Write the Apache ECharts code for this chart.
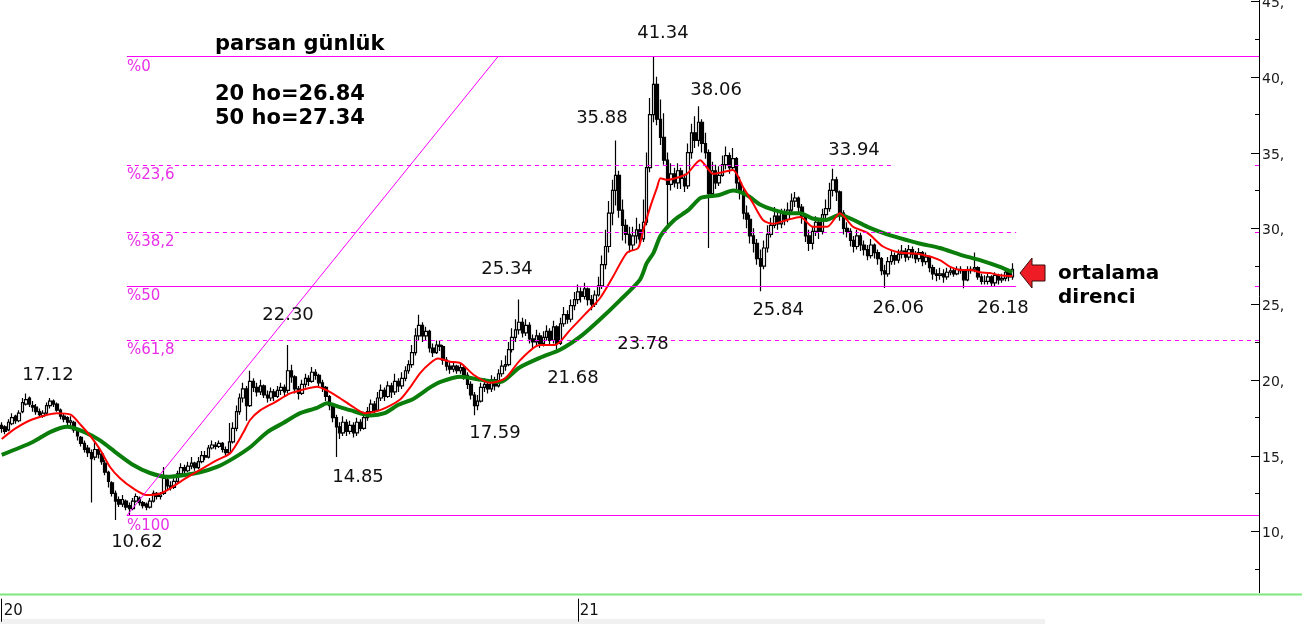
<!DOCTYPE html>
<html><head><meta charset="utf-8">
<script src="https://cdn.jsdelivr.net/npm/echarts@6/dist/echarts.min.js"></script>
<style>html,body{margin:0;padding:0;background:#fff}#c{width:1302px;height:624px}</style>
</head><body><div id="c"></div>
<script>
// ---- DATA ----
const opens=[17.0,16.9,16.7,17.1,17.6,17.3,17.9,18.4,18.8,18.3,
18.2,17.9,17.6,17.8,18.3,18.6,18.4,18.0,17.6,17.5,
17.2,17.2,16.7,16.2,15.8,15.5,15.2,14.9,15.4,15.1,
14.5,13.9,13.2,12.5,12.1,11.8,12.0,11.7,11.5,12.0,
12.2,11.9,11.8,11.6,12.0,12.5,12.3,12.5,13.4,13.0,
12.9,13.3,13.8,14.2,14.0,14.3,14.5,14.2,14.6,15.0,
14.9,15.5,15.7,15.6,15.8,15.4,15.2,15.9,16.8,17.9,
18.8,19.4,18.3,19.9,19.5,19.2,19.6,19.0,18.8,19.2,
18.9,19.3,19.5,19.3,20.6,20.2,19.4,19.1,19.7,20.1,
19.9,20.5,20.3,19.8,19.5,18.9,18.3,17.5,16.9,16.5,
17.2,16.6,17.0,16.5,17.2,16.8,17.5,17.9,18.4,18.0,
18.8,19.3,18.9,19.6,19.2,19.9,19.6,20.1,20.6,21.0,
21.8,22.9,23.6,22.9,23.2,22.1,21.8,22.3,22.2,21.3,
20.9,20.7,20.9,20.6,20.8,20.3,19.7,19.0,18.3,18.6,
19.5,19.7,19.4,20.0,19.6,20.4,20.9,21.0,22.0,22.8,
23.3,23.8,23.1,23.6,22.7,22.5,22.9,22.4,22.8,23.2,
22.6,23.5,22.4,23.7,24.3,24.0,24.9,25.3,25.8,25.5,
26.0,25.3,25.0,25.6,26.2,27.6,28.8,31.0,32.5,33.5,
31.2,30.2,29.6,28.9,29.5,29.9,29.3,30.4,34.0,37.5,
39.5,37.2,36.0,34.5,32.9,33.6,33.0,33.8,33.3,32.8,
35.0,36.3,35.8,37.0,35.6,35.0,32.3,33.8,33.0,33.5,
34.2,34.8,34.0,34.6,33.0,32.4,31.0,30.6,29.5,29.0,
28.0,27.5,28.7,29.6,30.2,30.8,30.3,31.0,30.6,31.2,
31.8,32.0,31.4,30.8,29.5,29.0,29.8,30.4,29.8,30.9,
31.3,32.5,33.2,32.4,31.0,30.0,29.8,29.2,28.8,29.5,
28.9,28.6,28.2,28.9,28.4,28.0,27.2,27.0,27.8,28.2,
27.9,28.3,28.5,28.1,28.6,28.3,28.0,28.4,27.8,28.1,
27.4,27.0,26.9,27.0,26.8,27.1,27.2,27.0,27.3,27.2,
26.6,27.2,27.3,27.4,26.8,26.5,26.5,26.8,26.4,26.9,
26.6,26.7,27.1,26.8];
const highs=[17.2,17.0,17.4,17.8,17.7,18.0,18.8,19.1,18.9,18.6,
18.4,18.1,18.0,18.5,18.8,18.7,18.5,18.1,17.8,17.6,
17.6,17.3,16.8,16.3,16.0,15.7,15.4,16.0,15.6,15.2,
14.7,14.0,13.3,12.7,12.3,12.4,12.1,11.9,12.2,12.5,
12.3,12.0,11.9,12.2,12.7,12.6,12.6,14.25,13.7,13.3,
13.5,14.0,14.5,14.4,14.6,14.9,14.6,14.9,15.3,15.3,
15.7,16.0,15.9,16.0,15.9,15.6,17.15,17.2,18.3,19.1,
19.8,19.6,20.6,20.1,19.8,20.0,19.7,19.3,19.5,19.4,
19.6,19.8,19.7,22.3,21.0,20.3,19.6,20.0,20.4,20.3,
20.85,20.7,20.4,20.0,19.6,19.0,18.4,17.7,17.2,17.6,
17.4,17.3,17.2,17.5,17.4,17.9,18.2,18.7,18.6,19.2,
19.7,19.5,19.9,19.8,20.4,20.1,20.5,20.9,21.3,22.3,
23.4,24.3,23.8,23.5,23.3,22.4,22.6,22.6,22.3,21.5,
21.2,21.2,21.0,21.1,21.0,20.5,19.9,19.2,19.0,19.8,
20.1,19.9,20.3,20.2,20.7,21.3,21.6,22.5,23.4,24.0,
25.3,24.1,24.0,23.8,23.0,23.3,23.1,23.2,23.6,23.4,
23.9,23.6,24.1,24.8,24.6,25.3,25.8,26.3,26.1,26.4,
26.1,25.6,25.9,26.8,28.2,29.9,31.8,33.2,35.8,33.8,
31.9,30.6,30.1,30.1,30.7,30.3,31.9,35.0,38.6,41.34,
40.0,38.5,37.6,35.0,34.3,34.0,34.3,34.0,33.6,35.6,
36.9,37.4,38.06,37.2,36.3,35.2,34.4,34.2,34.1,34.8,
35.4,35.0,35.3,34.7,33.4,32.6,31.5,30.9,30.0,29.3,
28.6,29.2,30.2,30.7,31.4,31.1,31.3,31.3,31.7,32.3,
32.4,32.1,31.6,30.9,29.9,30.1,30.8,30.6,31.3,31.9,
33.0,33.94,33.4,32.5,31.2,30.4,30.0,29.5,29.9,29.7,
29.2,28.9,29.3,29.0,28.6,28.1,27.6,28.1,28.5,28.4,
28.6,28.9,28.7,28.9,28.8,28.5,28.7,28.5,28.4,28.2,
27.6,27.3,27.4,27.3,27.4,27.5,27.4,27.5,27.5,27.3,
27.5,27.5,28.4,27.5,27.0,26.9,27.0,26.9,27.1,27.0,
27.0,27.4,27.3,27.7];
const lows=[16.5,16.4,16.6,17.0,17.1,17.2,17.8,18.3,18.2,17.9,
17.7,17.5,17.5,17.7,18.1,18.2,17.9,17.4,17.2,17.0,
16.9,16.5,16.0,15.6,15.2,14.9,11.9,14.7,14.8,14.4,
13.7,12.9,12.3,10.75,11.6,11.6,11.4,11.05,11.4,11.9,
11.7,11.5,11.4,11.5,11.9,12.1,12.1,12.4,12.8,12.7,
12.8,13.2,13.7,13.8,13.9,14.1,14.0,14.1,14.5,14.7,
14.8,15.4,15.4,15.5,15.2,14.9,15.1,15.8,16.6,17.7,
18.5,17.3,18.2,19.2,18.9,19.0,18.8,18.5,18.6,18.6,
18.8,19.0,18.9,19.1,19.8,19.1,18.7,19.0,19.5,19.6,
19.8,20.0,19.5,19.2,18.6,18.0,17.2,14.9,16.1,16.3,
16.3,16.4,16.2,16.3,16.6,16.7,17.3,17.7,17.8,17.9,
18.6,18.6,18.8,18.8,19.0,19.2,19.4,19.9,20.4,20.8,
21.6,22.6,22.5,22.6,21.8,21.5,21.7,21.9,21.0,20.6,
20.4,20.5,20.4,20.4,20.0,19.4,18.7,17.67,18.0,18.5,
19.2,19.1,19.2,19.3,19.5,20.2,20.6,20.9,21.8,22.5,
23.0,22.8,22.9,22.4,22.1,22.2,22.1,22.2,22.6,22.3,
22.4,22.0,22.3,23.5,23.7,23.8,24.6,25.0,25.1,25.3,
24.9,24.6,24.8,25.5,26.0,27.3,28.4,30.2,31.5,30.7,
29.2,29.0,28.4,28.5,29.0,28.8,29.1,30.2,33.7,37.0,
36.8,35.5,34.2,30.1,32.5,32.7,32.6,32.6,32.4,32.6,
34.6,35.3,35.4,35.0,34.6,28.7,32.0,32.6,32.8,33.4,
33.9,33.6,33.8,32.6,31.9,30.6,30.0,29.0,28.4,27.6,
25.84,27.3,28.4,29.4,30.0,29.9,30.0,30.2,30.4,31.0,
31.4,31.0,30.3,29.1,28.5,28.6,29.5,29.3,29.6,30.6,
31.1,32.1,31.8,30.5,29.6,29.4,28.8,28.4,28.6,28.5,
28.2,27.9,28.0,28.0,27.6,26.9,26.06,26.8,27.6,27.6,
27.7,28.0,27.8,27.9,28.0,27.7,27.8,27.5,27.6,27.1,
26.6,26.5,26.6,26.4,26.6,26.9,26.8,26.9,27.0,26.05,
26.5,27.0,27.1,26.6,26.3,26.3,26.3,26.2,26.2,26.3,
26.4,26.5,26.5,26.6];
const closes=[16.8,16.6,17.2,17.5,17.3,17.8,18.5,18.7,18.4,18.2,
17.9,17.7,17.8,18.3,18.6,18.4,18.0,17.6,17.4,17.2,
17.3,16.7,16.3,15.8,15.4,15.2,14.8,15.4,15.1,14.6,
13.9,13.3,12.5,12.0,11.8,12.1,11.6,11.5,12.0,12.3,
11.9,11.7,11.6,12.0,12.5,12.3,12.4,13.5,13.0,12.9,
13.3,13.8,14.2,14.0,14.3,14.5,14.2,14.6,15.0,14.9,
15.5,15.7,15.6,15.8,15.4,15.2,15.9,16.8,17.9,18.8,
19.4,18.3,19.9,19.5,19.2,19.6,19.0,18.8,19.2,18.9,
19.3,19.5,19.2,20.6,20.2,19.4,19.1,19.7,20.1,19.9,
20.5,20.3,19.8,19.5,18.9,18.3,17.5,16.9,16.5,17.2,
16.6,17.0,16.5,17.2,16.8,17.5,17.9,18.4,18.0,18.8,
19.3,18.9,19.6,19.2,19.9,19.6,20.1,20.6,21.0,21.8,
22.9,23.6,22.9,23.2,22.1,21.8,22.3,22.2,21.3,20.9,
20.7,20.9,20.6,20.8,20.3,19.7,19.0,18.3,18.6,19.5,
19.7,19.4,20.0,19.6,20.4,20.9,21.0,22.0,22.8,23.3,
23.8,23.1,23.6,22.7,22.5,22.9,22.4,22.8,23.2,22.6,
23.5,22.4,23.7,24.3,24.0,24.9,25.3,25.8,25.5,26.0,
25.3,25.0,25.6,26.2,27.6,28.8,31.0,32.5,33.5,31.2,
30.2,29.6,28.9,29.5,29.9,29.3,30.4,34.0,37.5,39.5,
37.2,36.0,34.5,32.9,33.6,33.0,33.8,33.3,32.8,35.0,
36.3,35.8,37.0,35.6,35.0,32.3,33.8,33.0,33.5,34.2,
34.8,34.0,34.6,33.0,32.4,31.0,30.6,29.5,29.0,28.0,
27.5,28.7,29.6,30.2,30.8,30.3,31.0,30.6,31.2,31.8,
32.0,31.4,30.8,29.5,29.0,29.8,30.4,29.8,30.9,31.3,
32.5,33.2,32.4,31.0,30.0,29.8,29.2,28.8,29.5,28.9,
28.6,28.2,28.9,28.4,28.0,27.2,27.0,27.8,28.2,27.9,
28.3,28.5,28.1,28.6,28.3,28.0,28.4,27.8,28.1,27.4,
27.0,26.9,27.0,26.8,27.1,27.2,27.0,27.3,27.2,26.6,
27.2,27.3,27.4,26.8,26.5,26.5,26.8,26.4,26.9,26.6,
26.7,27.1,26.8,27.3];
// moving averages sampled along the curves: [bar index, value]
const ma20=[[0,16.1],[4,16.8],[9,17.4],[16,17.8],[20,17.7],[23,17.0],[26,16.2],[28.5,15.4],[31.4,14.25],[34.3,13.5],[38,12.85],[42,12.4],[46,12.5],[49,12.85],[52.6,13.4],[57.5,14.05],[62.4,14.7],[66.2,15.15],[70,16.5],[72,17.35],[75,18.0],[79,18.5],[83.6,19.1],[86.5,19.3],[91.4,19.55],[94.3,19.3],[98,18.8],[101,18.35],[105.3,17.8],[109.7,18.0],[115.5,18.7],[118.4,19.5],[121.3,20.45],[124.2,21.1],[126.5,21.4],[130,21.2],[133,21.1],[137,20.3],[141.6,19.8],[146,20.1],[150.3,21.3],[156,22.3],[160.4,22.3],[164.8,23.3],[169,24.3],[173.5,25.4],[177.2,26.8],[181.3,28.4],[184.5,28.7],[186,29.9],[188,31.4],[190,32.7],[191,33.3],[193,33.2],[196.7,33.4],[198.7,33.6],[202.5,34.5],[204.5,34.0],[206.2,33.6],[209,33.7],[212,33.85],[215,32.7],[217.8,31.65],[220.7,30.55],[223.6,30.3],[227.7,30.55],[231.5,30.75],[235.2,30.1],[239.3,30.1],[243,31.0],[246.8,30.1],[251,29.7],[255.5,28.8],[260.4,28.4],[266,28.3],[272,27.9],[275,27.45],[278,27.25],[281,27.25],[283.6,27.1],[286.5,27.05],[289.4,26.9],[293,26.85]];
const ma50=[[0,15.05],[9,15.9],[14,16.55],[19,16.9],[24,16.55],[28.5,16.0],[33.4,15.15],[38,14.4],[43,13.85],[48,13.6],[52.6,13.7],[57.5,13.9],[62.4,14.25],[67,14.8],[72,15.55],[77,16.55],[81.6,17.15],[86.5,17.8],[91.4,18.15],[94.3,18.45],[98,18.2],[101,18.0],[107,17.65],[111,17.8],[115,18.35],[119,18.7],[124.2,19.5],[127,19.85],[133,20.2],[139,20.0],[144.5,19.85],[150,20.8],[156,21.45],[162,22.0],[168,22.9],[173.5,24.0],[179,25.2],[185,26.6],[187,27.7],[189,28.4],[191,29.5],[195,30.55],[199,31.2],[202.5,32.0],[204.5,32.1],[208,32.2],[212,32.5],[216,32.2],[220,31.55],[224,31.2],[228,31.0],[231.5,31.0],[235,30.65],[239,30.55],[243,30.9],[247,30.55],[251,30.1],[255.5,29.7],[260.4,29.35],[266,29.0],[272,28.7],[278,28.25],[283.6,27.9],[289.4,27.45],[293,27.1]];
const fibHigh=41.34, fibLow=11.05;
const fibRatios=[0,0.236,0.382,0.5,0.618,1];
const fibLabels=['%0','%23,6','%38,2','%50','%61,8','%100'];
const peakLabels=['17.12','10.62','22.30','14.85','17.59','25.34','21.68','23.78','35.88','41.34','38.06','33.94','25.84','26.06','26.18'];
const yearLabels=['20','21'];
const yearIdx=[0,167];
const yMajor=[10,15,20,25,30,35,40,45];
const yMinor=[7.5,12.5,17.5,22.5,27.5,32.5,37.5,42.5];
const titleLines=['parsan günlük','20 ho=26.84','50 ho=27.34'];
const noteLines=['ortalama','direnci'];

// ---- LAYOUT ----
const SLOTS=365;
const GRID_W=1259;
const peakAt=[[13.4,20.32],[39.2,9.30],[83.0,24.28],[103.3,13.58],[143.0,16.49],[146.5,27.31],[165.6,20.12],[185.9,22.37],[174.0,37.29],[191.7,42.84],[207.1,39.08],[247.1,35.17],[225.1,24.61],[259.9,24.75],[290.3,24.75]];
const fibStart=36.3;
const fibEnd=[364.5,258.4,294.1,294.1,364.5,364.5];
const MAG='#ff00ff';
const XMAX=SLOTS-0.5;

const candles=closes.map((c,i)=>[opens[i],c,lows[i],highs[i]]);
const cats=Array.from({length:SLOTS},()=> '');
yearIdx.forEach((k,j)=>{cats[k]=yearLabels[j];});
const fibLevels=fibRatios.map(r=>fibHigh-r*(fibHigh-fibLow));

const fibLines=fibLevels.map((v,j)=>[
  {coord:[fibStart,v],lineStyle:{color:MAG,width:1,type:(j===1||j===2||j===4)?[4,4]:'solid'}},
  {coord:[fibEnd[j],v]}]);
const diag=[[{coord:[fibStart,fibLow],lineStyle:{color:MAG,width:1,type:'solid'}},{coord:[143.9,fibHigh]}]];
// tick marks on the price axis: [value, length px, colour]
const axisMarks=yMajor.map(v=>[XMAX,v,8,0]).concat([1,2,3].map(j=>[XMAX,fibLevels[j],4,1]));

const pts=peakLabels.map((t,j)=>({coord:peakAt[j],symbolSize:0,
  label:{show:true,position:'inside',formatter:t,color:'#111',fontSize:18,fontFamily:'DejaVu Sans'}}));
const fibPts=fibLabels.map((t,j)=>({coord:[fibStart,fibLevels[j]-0.69],symbolSize:0,
  label:{show:true,position:[0,0],align:'left',verticalAlign:'middle',formatter:t,color:'#e830e8',fontSize:15,fontFamily:'DejaVu Sans'}}));

const chart=echarts.init(document.getElementById('c'),null,{renderer:'canvas'});
const txt=(s,x,y,size)=>({type:'text',x:x,y:y,z:100,style:{text:s,fill:'#000',font:'bold '+size+'px "DejaVu Sans"',align:'left',verticalAlign:'middle'}});
chart.setOption({
  animation:false,
  backgroundColor:'#fff',
  grid:{left:0,right:1302-GRID_W,top:0,bottom:31.3,containLabel:false,outerBoundsMode:'none'},
  xAxis:[{
    type:'category',data:cats,boundaryGap:true,offset:6,
    axisLine:{show:false},splitLine:{show:false},
    axisTick:{show:true,alignWithLabel:true,interval:(i,v)=>v!=='',length:23,lineStyle:{color:'#000',width:1}},
    axisLabel:{show:true,interval:(i,v)=>v!=='',align:'left',verticalAlign:'top',margin:5,padding:[0,0,0,2],color:'#111',fontSize:15,fontFamily:'DejaVu Sans'}
  },{
    type:'value',min:-0.5,max:XMAX,show:false
  }],
  yAxis:[{
    type:'value',position:'right',min:5.95,max:45.07,
    splitLine:{show:false},
    axisLine:{show:true,onZero:false,lineStyle:{color:'#000',width:1}},
    axisTick:{show:true,inside:true,length:4,customValues:yMinor,lineStyle:{color:'#000',width:1}},
    axisLabel:{show:true,customValues:yMajor,formatter:v=>v+',',color:'#1a1a1a',fontFamily:'DejaVu Sans',fontSize:14,margin:3,verticalAlign:'top',lineHeight:5}
  }],
  series:[{
    type:'candlestick',xAxisIndex:0,yAxisIndex:0,data:candles,barWidth:3,
    itemStyle:{color:'#fff',color0:'#000',borderColor:'#000',borderColor0:'#000',borderWidth:1.2},
    z:2
  },{
    type:'line',xAxisIndex:1,yAxisIndex:0,data:ma50,smooth:0.25,symbol:'none',
    lineStyle:{color:'#0a7d0a',width:4},z:3,
    markLine:{silent:true,symbol:['none','none'],label:{show:false},animation:false,data:fibLines.concat(diag)}
  },{
    type:'line',xAxisIndex:1,yAxisIndex:0,data:ma20,smooth:0.25,symbol:'none',
    lineStyle:{color:'#ff0000',width:2},z:4,
    markPoint:{silent:true,animation:false,symbol:'circle',symbolSize:0,data:pts.concat(fibPts)}
  },{
    type:'custom',xAxisIndex:1,yAxisIndex:0,data:axisMarks,clip:false,silent:true,z:10,
    renderItem:function(params,api){
      const p=api.coord([api.value(0),api.value(1)]);
      const y=Math.round(p[1])+0.5;
      return {type:'line',shape:{x1:p[0]-api.value(2),y1:y,x2:p[0],y2:y},
        style:{stroke:api.value(3)?MAG:'#000',lineWidth:1}};
    }
  }],
  graphic:[
    {type:'line',z:90,shape:{x1:0,y1:594.5,x2:1302,y2:594.5},style:{stroke:'#7ee87e',lineWidth:2}},
    {type:'rect',z:0,shape:{x:0,y:619,width:1045,height:5},style:{fill:'#f1f1f1'}},
    txt(titleLines[0],215,45,21),
    txt(titleLines[1],215,95,21),
    txt(titleLines[2],215,119,21),
    txt(noteLines[0],1058,274,20),
    txt(noteLines[1],1058,298,20),
    {type:'polygon',z:100,shape:{points:[[1020,273],[1032,258],[1032,265],[1045,265],[1045,281],[1032,281],[1032,288]]},style:{fill:'#ee1c25',stroke:'#3a0a0a',lineWidth:1}}
  ]
});
</script></body></html>
